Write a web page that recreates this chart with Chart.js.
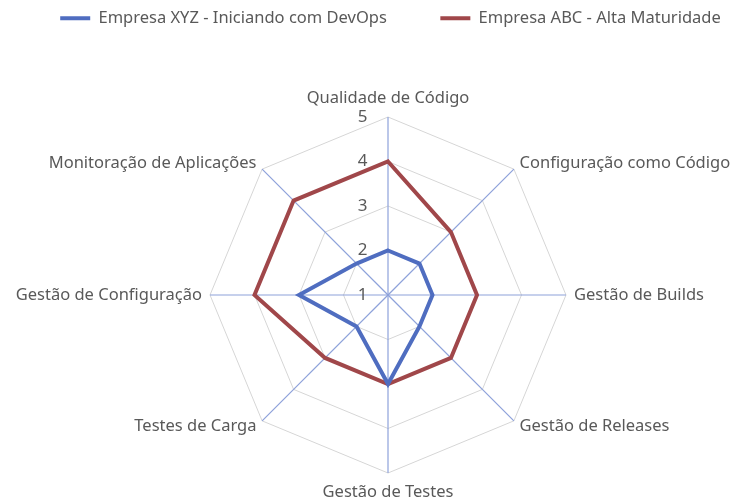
<!DOCTYPE html>
<html>
<head>
<meta charset="utf-8">
<script src="https://cdn.jsdelivr.net/npm/chart.js@4"></script>
<style>
html,body{margin:0;padding:0;background:#fff;}
</style>
</head>
<body>
<canvas id="c" width="734" height="500"></canvas>
<script>
const categories = ['Qualidade de Código','Configuração como Código','Gestão de Builds','Gestão de Releases','Gestão de Testes','Testes de Carga','Gestão de Configuração','Monitoração de Aplicações'];
const seriesNames = ['Empresa XYZ - Iniciando com DevOps','Empresa ABC - Alta Maturidade'];
const xyzValues = [2,2,2,2,3,2,3,2];
const abcValues = [4,3,3,3,3,3,4,4];
const tickValues = [1,2,3,4,5];

const FONT = '"Noto Sans", sans-serif';
const TEXT = '#595959';
const BLUE = '#4F6DC0';
const RED = '#A0474A';

new Chart(document.getElementById('c'), {
  type: 'radar',
  data: {
    labels: categories,
    datasets: [
      {label: seriesNames[0], data: xyzValues, borderColor: BLUE, backgroundColor: BLUE, borderWidth: 4},
      {label: seriesNames[1], data: abcValues, borderColor: RED, backgroundColor: RED, borderWidth: 4}
    ]
  },
  options: {
    responsive: false,
    animation: false,
    layout: {padding: {left: 47, right: 0, top: 6, bottom: 18}},
    elements: {
      line: {tension: 0, fill: false},
      point: {radius: 0, hoverRadius: 0}
    },
    plugins: {
      legend: {
        position: 'top',
        labels: {
          usePointStyle: true, pointStyle: 'line', pointStyleWidth: 30,
          padding: 4, color: TEXT,
          font: {family: FONT, size: 16.5},
          generateLabels: (chart) => {
            const items = Chart.defaults.plugins.legend.labels.generateLabels(chart);
            items.forEach(it => { it.lineWidth = 4; });
            items[0].text = items[0].text + '\u2003\u2003\u2003';
            return items;
          }
        }
      },
      // empty spacer boxes: between legend and plot, and at the right of the plot
      title: {display: true, text: '', weight: 500, padding: 30, font: {size: 12.5, lineHeight: 1}},
      subtitle: {display: true, text: '', position: 'right', fullSize: false, padding: 0, font: {size: 4, lineHeight: 1}},
      tooltip: {enabled: false}
    },
    scales: {
      r: {
        min: 1, max: 5,
        afterSetDimensions: (s) => { s.left -= 300; s.right += 300; s.top -= 300; s.bottom += 300; },
        afterBuildTicks: (s) => { s.ticks = [tickValues[0]].concat(tickValues).map(v => ({value: v})); },
        ticks: {
          stepSize: 1,
          showLabelBackdrop: false, backdropPadding: 0,
          color: TEXT,
          font: {family: FONT, size: 17},
          callback: (v) => String(v) + '\u2003\u2003\u2003'
        },
        grid: {color: '#D6D6D6', lineWidth: 1, circular: false},
        angleLines: {color: '#8EA2DA', lineWidth: 1.2},
        pointLabels: {
          color: TEXT,
          padding: (ctx) => (ctx.index === 0 || ctx.index === 4) ? 10.5 : -0.5,
          font: {family: FONT, size: 16.5, lineHeight: 0.01}
        }
      }
    }
  }
});
</script>
</body>
</html>
